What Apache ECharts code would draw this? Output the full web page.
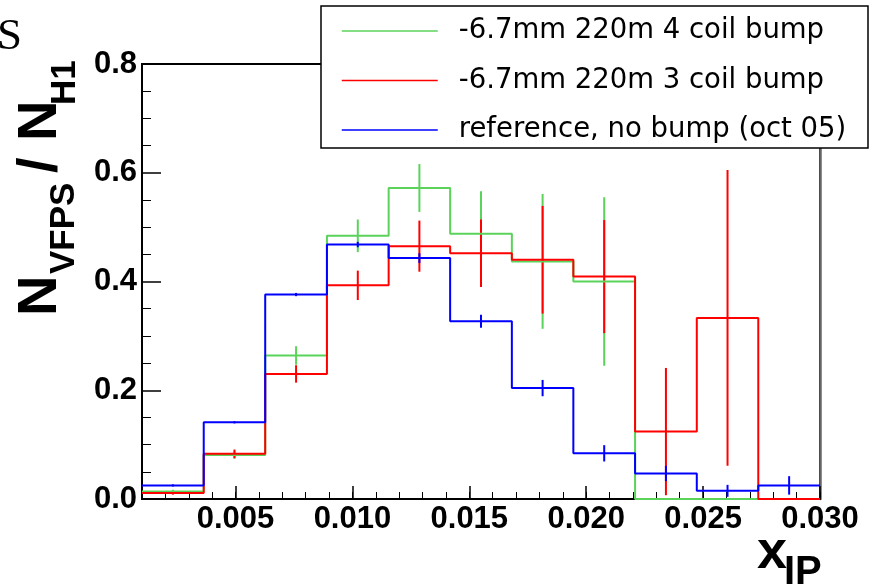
<!DOCTYPE html>
<html>
<head>
<meta charset="utf-8">
<script src="https://cdn.jsdelivr.net/npm/echarts@6/dist/echarts.min.js"></script>
<style>
  html, body { margin: 0; padding: 0; background: #fff; }
  #myChart { width: 872px; height: 588px; }
</style>
</head>
<body>
<div id="myChart"></div>
<script>
// 11 bins in x_IP, 0.001 .. 0.030
var binEdges = [0.00100, 0.00364, 0.00627, 0.00891, 0.01155, 0.01418, 0.01682, 0.01945, 0.02209, 0.02473, 0.02736, 0.03000]
var xMajorTicks = [0.005, 0.010, 0.015, 0.020, 0.025, 0.030]

var names = ['-6.7mm 220m 4 coil bump', '-6.7mm 220m 3 coil bump', 'reference, no bump (oct 05)']

var coil4 = [0.014, 0.081, 0.264, 0.484, 0.572, 0.488, 0.437, 0.400, 0, 0, 0]
var coil4Err = [0.003, 0.007, 0.017, 0.030, 0.044, 0.078, 0.124, 0.155, 0, 0, 0]

var coil3 = [0.011, 0.083, 0.230, 0.393, 0.465, 0.452, 0.440, 0.409, 0.124, 0.333, 0]
var coil3Err = [0.003, 0.008, 0.016, 0.027, 0.047, 0.062, 0.099, 0.104, 0.117, 0.272, 0]

var noBump = [0.025, 0.141, 0.376, 0.468, 0.443, 0.327, 0.204, 0.084, 0.047, 0.015, 0.025]
var noBumpErr = [0.002, 0.002, 0.003, 0.005, 0.009, 0.012, 0.015, 0.015, 0.014, 0.011, 0.017]

var green = '#5bd35b'
var red = '#ff0000'
var blue = '#0000ff'
var font = '"Liberation Sans", Arial, sans-serif'

function stepData (vals) {
  var d = []
  for (var i = 0; i < vals.length; i++) d.push([binEdges[i], vals[i]])
  d.push([binEdges[vals.length], vals[vals.length - 1]])
  return d
}

function errData (vals, errs) {
  var d = []
  for (var i = 0; i < vals.length; i++) {
    if (errs[i] > 0) d.push([(binEdges[i] + binEdges[i + 1]) / 2, vals[i], errs[i]])
  }
  return d
}

function renderErr (params, api) {
  var x = api.value(0)
  var y = api.value(1)
  var e = api.value(2)
  var p1 = api.coord([x, y - e])
  var p2 = api.coord([x, y + e])
  return {
    type: 'line',
    shape: { x1: p1[0], y1: p1[1], x2: p2[0], y2: p2[1] },
    style: { stroke: api.visual('color'), lineWidth: 2 }
  }
}

function histSeries (name, vals, color) {
  return {
    name: name,
    type: 'line',
    step: 'end',
    symbol: 'none',
    animation: false,
    lineStyle: { color: color, width: 2 },
    itemStyle: { color: color, opacity: 0 },
    data: stepData(vals)
  }
}

function errSeries (name, vals, errs, color) {
  return {
    name: name,
    type: 'custom',
    clip: true,
    animation: false,
    itemStyle: { color: color },
    renderItem: renderErr,
    encode: { x: 0, y: 1 },
    data: errData(vals, errs)
  }
}

function label (text, x, y, size, rotated, family) {
  return {
    type: 'text',
    x: x,
    y: y,
    rotation: rotated ? Math.PI / 2 : 0,
    z: 10,
    style: {
      text: text,
      fill: '#000',
      font: (family ? '' : 'bold ') + size + 'px ' + (family || font),
      align: 'left',
      verticalAlign: 'middle'
    }
  }
}

var myChart = echarts.init(document.getElementById('myChart'))

var option = {
  backgroundColor: '#fff',
  animation: false,
  grid: {
    left: 142, right: 52, top: 64, bottom: 89,
    show: true, borderColor: '#000', borderWidth: 2
  },
  legend: {
    data: names,
    orient: 'vertical',
    left: 341,
    top: 17,
    padding: 0,
    itemWidth: 96,
    itemHeight: 26,
    itemGap: 21.5,
    selectedMode: false,
    itemStyle: { opacity: 0 },
    lineStyle: { width: 1.5 },
    textStyle: { fontFamily: '"DejaVu Sans"', fontSize: 27.5, lineHeight: 26, color: '#000', padding: [2, 0, 0, 16] }
  },
  xAxis: [{
    type: 'value',
    position: 'bottom',
    min: 0.001,
    max: 0.030,
    axisLine: { show: true, lineStyle: { color: '#000', width: 2 } },
    axisTick: { show: true, inside: true, length: 13, customValues: xMajorTicks, lineStyle: { color: '#000', width: 1.5 } },
    axisLabel: {
      customValues: xMajorTicks,
      margin: 5,
      fontFamily: font, fontWeight: 'bold', fontSize: 31, color: '#000',
      formatter: function (v) { return v.toFixed(3) }
    },
    splitLine: { show: false }
  }, {
    type: 'value',
    position: 'bottom',
    min: 0.001,
    max: 0.030,
    interval: 0.001,
    axisLine: { show: false },
    axisTick: { show: true, inside: true, length: 7, lineStyle: { color: '#000', width: 1 } },
    axisLabel: { show: false },
    splitLine: { show: false }
  }],
  yAxis: [{
    type: 'value',
    position: 'left',
    min: 0,
    max: 0.8,
    interval: 0.2,
    axisLine: { show: true, lineStyle: { color: '#000', width: 2 } },
    axisTick: { show: true, inside: true, length: 19, lineStyle: { color: '#000', width: 1.5 } },
    minorTick: { show: true, splitNumber: 4, length: 9, lineStyle: { color: '#000', width: 1 } },
    axisLabel: {
      margin: 5,
      padding: [8, 0, 0, 0],
      fontFamily: font, fontWeight: 'bold', fontSize: 31, color: '#000',
      formatter: function (v) { return v.toFixed(1) }
    },
    splitLine: { show: false }
  }, {
    type: 'value',
    position: 'right',
    min: 0,
    max: 0.8,
    axisLine: { show: true, lineStyle: { color: '#666', width: 2.5 } },
    axisTick: { show: false },
    axisLabel: { show: false },
    splitLine: { show: false }
  }],
  graphic: [
    {
      type: 'rect',
      z: 3,
      shape: { x: 321, y: 6, width: 547, height: 142 },
      style: { fill: '#fff', stroke: '#000', lineWidth: 1.5 }
    },
    label('S', -3, 37, 45, false, '"Liberation Serif", "Times New Roman", serif'),
    label('N', 41, 316, 56, true),
    label('VFPS', 64, 274, 35, true),
    label('/', 41, 173, 56, true),
    label('N', 41, 141, 56, true),
    label('H1', 65, 105, 35, true),
    label('x', 757, 553, 54, false),
    label('IP', 784, 573, 40, false)
  ],
  series: [
    histSeries(names[0], coil4, green),
    errSeries('coil4 err', coil4, coil4Err, green),
    histSeries(names[1], coil3, red),
    errSeries('coil3 err', coil3, coil3Err, red),
    histSeries(names[2], noBump, blue),
    errSeries('ref err', noBump, noBumpErr, blue)
  ]
}

myChart.setOption(option)
</script>
</body>
</html>
